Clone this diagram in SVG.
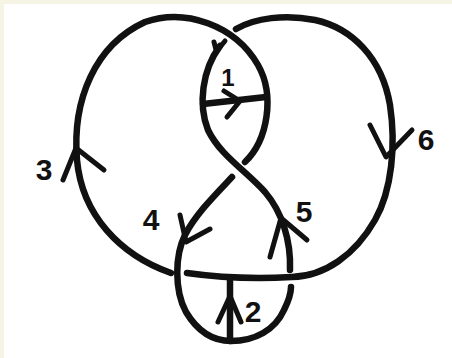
<svg xmlns="http://www.w3.org/2000/svg" width="452" height="358" viewBox="0 0 452 358">
<style>
.s{fill:none;stroke:#111;stroke-width:6.5;stroke-linecap:round;stroke-linejoin:round}
.a{fill:none;stroke:#111;stroke-width:5;stroke-linecap:round;stroke-linejoin:round}
.t{font-family:"Liberation Sans",Arial,sans-serif;font-size:30px;font-weight:bold;fill:#111;text-anchor:middle}
</style>
<rect x="0" y="0" width="452" height="358" fill="#f6f4e4"/>
<rect x="4" y="4" width="448" height="354" fill="#ffffff"/>
<g id="connectors">
<path id="strandA" class="s" d="M171,273 C120,255 82,215 77,160 C72,100 95,45 145,22 C185,8 235,25 258,65 C275,95 268,140 245,162"/>
<path id="strandB" class="s" d="M232,177 C215,195 195,215 185,235 C175,255 174,290 186,312 C198,332 213,341 231,341 C255,341 275,330 284,310 C289,300 291,293 291,287"/>
<path id="strandC" class="s" d="M290,270 C291,240 282,212 265,192 C245,170 220,155 208,130 C198,105 202,70 220,46"/>
<path id="strandC-tip" class="a" d="M216,50 L214,42 M220,47 L225,41"/>
<path id="strandD" class="s" d="M236,29 C255,18 285,14 315,20 C352,28 382,58 390,105 C396,145 392,190 375,220 C355,255 325,276 292,277 C255,279 215,277 187,273"/>
<path id="chord1" class="s" d="M203,104 L266,97"/>
<path id="chord2" class="s" d="M230,278 L230,341"/>
<path id="arrow1" class="a" d="M224,91 L240,101 L227,117"/>
<path id="arrow2" class="a" d="M218,322 L230,296 L241,322"/>
<path id="arrow3" class="a" d="M63,180 L76,148 L104,170"/>
<path id="arrow4" class="a" d="M180,215 L186,242 L210,229"/>
<path id="arrow5" class="a" d="M270,257 L281,218 L307,240"/>
<path id="arrow6" class="a" d="M370,125 L386,157 L412,130"/>
</g>
<g id="label1"><text class="t" x="228" y="86" style="font-size:24px">1</text></g>
<g id="label2"><text class="t" x="253" y="322">2</text></g>
<g id="label3"><text class="t" x="44" y="180">3</text></g>
<g id="label4"><text class="t" x="151" y="230">4</text></g>
<g id="label5"><text class="t" x="304" y="222">5</text></g>
<g id="label6"><text class="t" x="426" y="150">6</text></g>
</svg>
